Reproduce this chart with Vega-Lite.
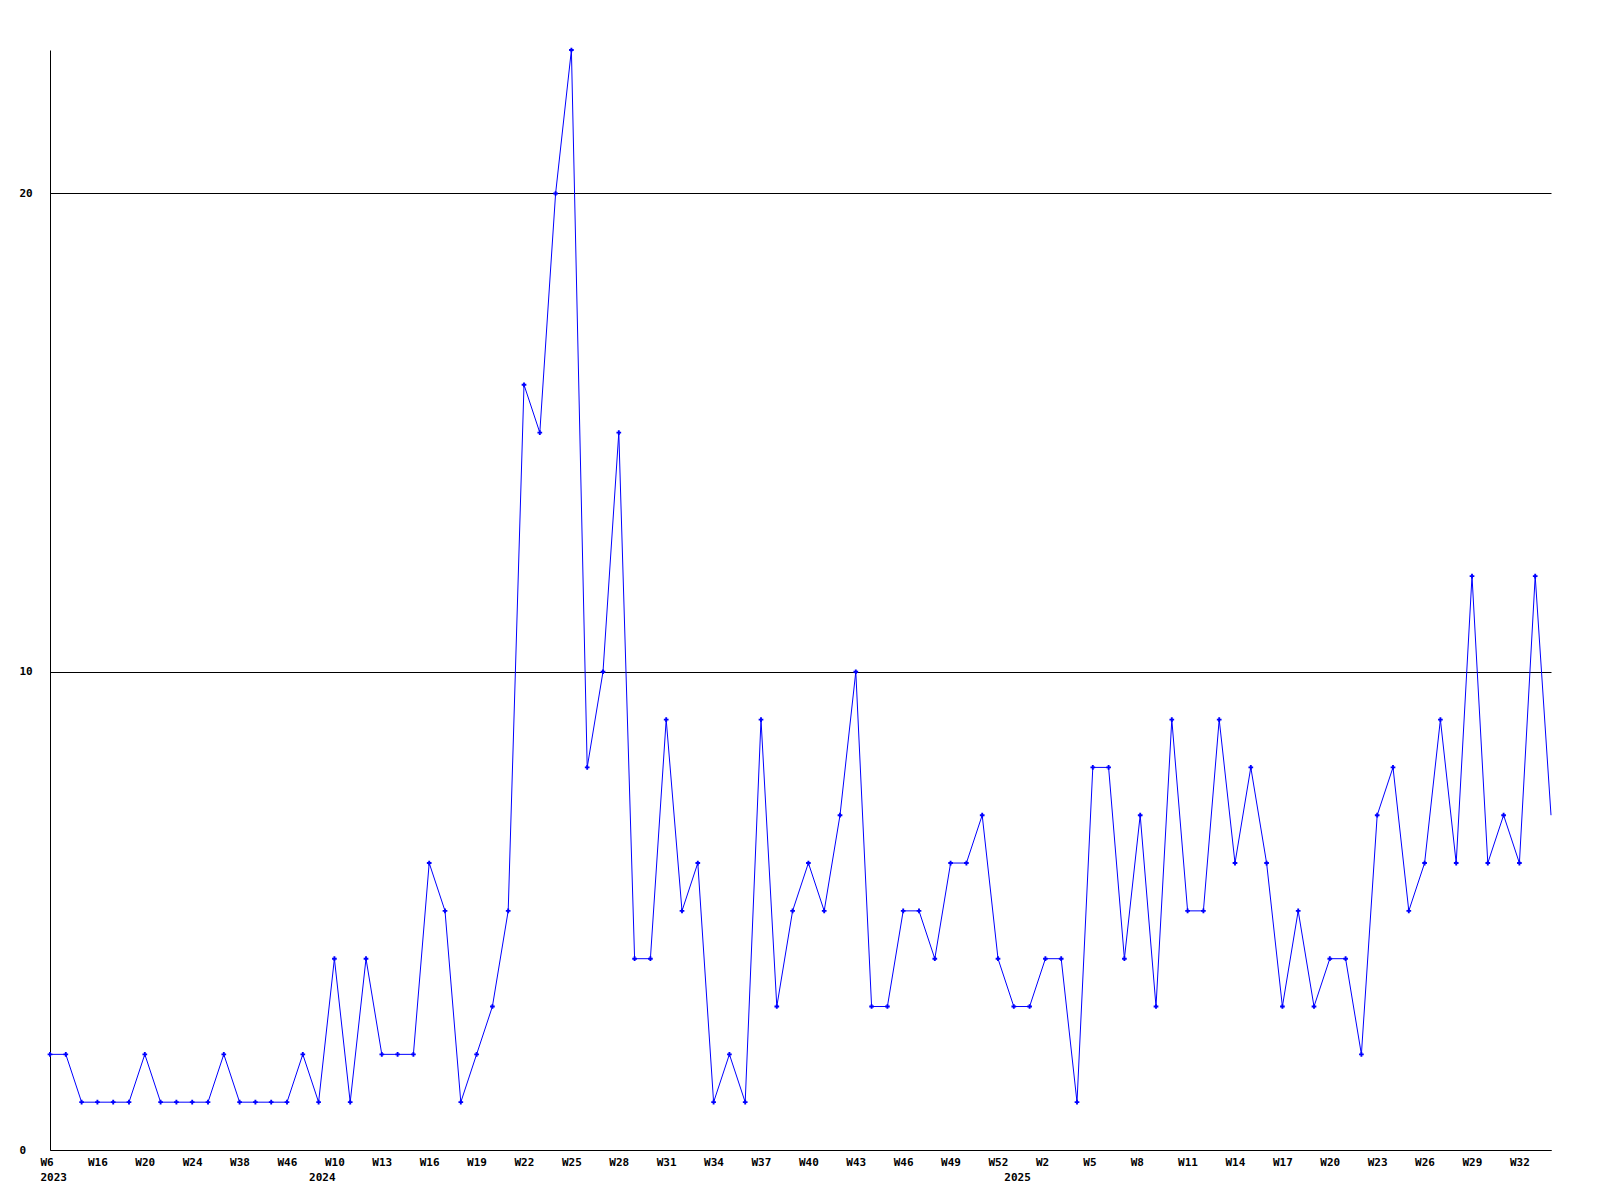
{
  "$schema": "https://vega.github.io/schema/vega-lite/v6.json",
  "width": 1501,
  "height": 1100,
  "autosize": {"type": "none"},
  "padding": {"left": 50, "top": 50, "right": 49, "bottom": 50},
  "background": "white",
  "config": {
    "view": {"stroke": null},
    "font": "DejaVu Sans Mono",
    "axis": {
      "labelFont": "DejaVu Sans Mono",
      "labelFontWeight": "bold",
      "labelFontSize": 11,
      "labelColor": "black",
      "domainColor": "black",
      "domainWidth": 1,
      "gridColor": "black",
      "gridOpacity": 1,
      "gridWidth": 1,
      "ticks": false,
      "tickSize": 0,
      "title": null,
      "labelOverlap": false
    }
  },
  "data": {
    "values": [
      {"key": "2023 W6", "v": 2}, {"key": "2023 W8", "v": 2}, {"key": "2023 W12", "v": 1},
      {"key": "2023 W16", "v": 1}, {"key": "2023 W17", "v": 1}, {"key": "2023 W19", "v": 1},
      {"key": "2023 W20", "v": 2}, {"key": "2023 W21", "v": 1}, {"key": "2023 W22", "v": 1},
      {"key": "2023 W24", "v": 1}, {"key": "2023 W30", "v": 1}, {"key": "2023 W33", "v": 2},
      {"key": "2023 W38", "v": 1}, {"key": "2023 W40", "v": 1}, {"key": "2023 W43", "v": 1},
      {"key": "2023 W46", "v": 1}, {"key": "2023 W50", "v": 2}, {"key": "2024 W5", "v": 1},
      {"key": "2024 W10", "v": 4}, {"key": "2024 W11", "v": 1}, {"key": "2024 W12", "v": 4},
      {"key": "2024 W13", "v": 2}, {"key": "2024 W14", "v": 2}, {"key": "2024 W15", "v": 2},
      {"key": "2024 W16", "v": 6}, {"key": "2024 W17", "v": 5}, {"key": "2024 W18", "v": 1},
      {"key": "2024 W19", "v": 2}, {"key": "2024 W20", "v": 3}, {"key": "2024 W21", "v": 5},
      {"key": "2024 W22", "v": 16}, {"key": "2024 W23", "v": 15}, {"key": "2024 W24", "v": 20},
      {"key": "2024 W25", "v": 23}, {"key": "2024 W26", "v": 8}, {"key": "2024 W27", "v": 10},
      {"key": "2024 W28", "v": 15}, {"key": "2024 W29", "v": 4}, {"key": "2024 W30", "v": 4},
      {"key": "2024 W31", "v": 9}, {"key": "2024 W32", "v": 5}, {"key": "2024 W33", "v": 6},
      {"key": "2024 W34", "v": 1}, {"key": "2024 W35", "v": 2}, {"key": "2024 W36", "v": 1},
      {"key": "2024 W37", "v": 9}, {"key": "2024 W38", "v": 3}, {"key": "2024 W39", "v": 5},
      {"key": "2024 W40", "v": 6}, {"key": "2024 W41", "v": 5}, {"key": "2024 W42", "v": 7},
      {"key": "2024 W43", "v": 10}, {"key": "2024 W44", "v": 3}, {"key": "2024 W45", "v": 3},
      {"key": "2024 W46", "v": 5}, {"key": "2024 W47", "v": 5}, {"key": "2024 W48", "v": 4},
      {"key": "2024 W49", "v": 6}, {"key": "2024 W50", "v": 6}, {"key": "2024 W51", "v": 7},
      {"key": "2024 W52", "v": 4}, {"key": "2025 W0", "v": 3}, {"key": "2025 W1", "v": 3},
      {"key": "2025 W2", "v": 4}, {"key": "2025 W3", "v": 4}, {"key": "2025 W4", "v": 1},
      {"key": "2025 W5", "v": 8}, {"key": "2025 W6", "v": 8}, {"key": "2025 W7", "v": 4},
      {"key": "2025 W8", "v": 7}, {"key": "2025 W9", "v": 3}, {"key": "2025 W10", "v": 9},
      {"key": "2025 W11", "v": 5}, {"key": "2025 W12", "v": 5}, {"key": "2025 W13", "v": 9},
      {"key": "2025 W14", "v": 6}, {"key": "2025 W15", "v": 8}, {"key": "2025 W16", "v": 6},
      {"key": "2025 W17", "v": 3}, {"key": "2025 W18", "v": 5}, {"key": "2025 W19", "v": 3},
      {"key": "2025 W20", "v": 4}, {"key": "2025 W21", "v": 4}, {"key": "2025 W22", "v": 2},
      {"key": "2025 W23", "v": 7}, {"key": "2025 W24", "v": 8}, {"key": "2025 W25", "v": 5},
      {"key": "2025 W26", "v": 6}, {"key": "2025 W27", "v": 9}, {"key": "2025 W28", "v": 6},
      {"key": "2025 W29", "v": 12}, {"key": "2025 W30", "v": 6}, {"key": "2025 W31", "v": 7},
      {"key": "2025 W32", "v": 6}, {"key": "2025 W33", "v": 12}, {"key": "2025 W34", "v": 7}
    ]
  },
  "encoding": {
    "y": {
      "field": "v",
      "type": "quantitative",
      "scale": {"domain": [0, 23], "nice": false, "zero": true},
      "axis": {
        "values": [0, 10, 20],
        "grid": true,
        "labelAlign": "left",
        "labelBaseline": "middle",
        "labelPadding": 31
      }
    }
  },
  "layer": [
    {
      "mark": {"type": "line", "color": "#0000ff", "strokeWidth": 1},
      "encoding": {
        "x": {
          "field": "key",
          "type": "ordinal",
          "sort": null,
          "scale": {"type": "point", "padding": 0},
          "axis": {
            "values": ["2023 W6", "2023 W16", "2023 W20", "2023 W24", "2023 W38", "2023 W46",
                       "2024 W10", "2024 W13", "2024 W16", "2024 W19", "2024 W22", "2024 W25",
                       "2024 W28", "2024 W31", "2024 W34", "2024 W37", "2024 W40", "2024 W43",
                       "2024 W46", "2024 W49", "2024 W52", "2025 W2", "2025 W5", "2025 W8",
                       "2025 W11", "2025 W14", "2025 W17", "2025 W20", "2025 W23", "2025 W26",
                       "2025 W29", "2025 W32"],
            "labelExpr": "split(datum.value, ' ')[1]",
            "labelAngle": 0,
            "labelAlign": "left",
            "labelBaseline": "top",
            "labelOffset": -10,
            "labelPadding": 6,
            "grid": false
          }
        }
      }
    },
    {
      "transform": [{"filter": "datum.key != '2025 W34'"}],
      "mark": {"type": "point", "shape": "cross", "size": 22, "filled": true, "color": "#0000ff", "opacity": 1},
      "encoding": {
        "x": {
          "field": "key",
          "type": "ordinal",
          "sort": null,
          "scale": {"type": "point", "padding": 0},
          "axis": {
            "orient": "bottom",
            "values": ["2023 W6", "2024 W5", "2025 W0"],
            "labelExpr": "split(datum.value, ' ')[0]",
            "labelAngle": 0,
            "labelAlign": "left",
            "labelBaseline": "top",
            "labelOffset": -10,
            "labelPadding": 21,
            "domain": false,
            "grid": false
          }
        }
      }
    }
  ],
  "resolve": {"axis": {"x": "independent"}}
}
